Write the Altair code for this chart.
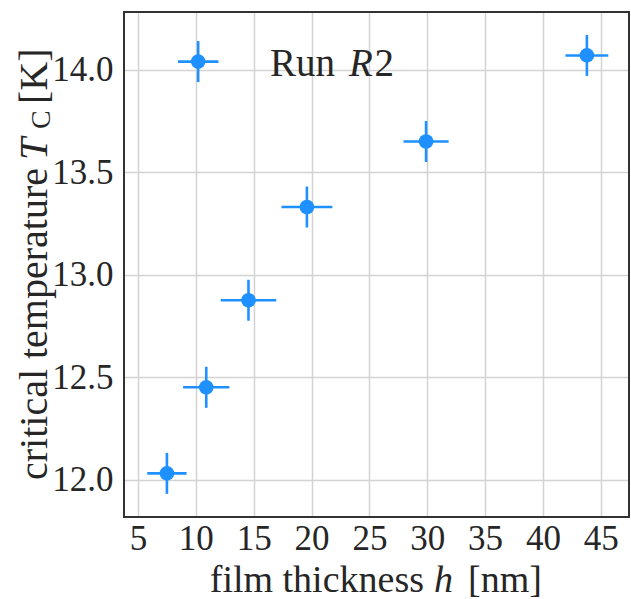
import altair as alt
import pandas as pd

# ---- data ----
thickness = [7.5, 10.9, 14.55, 19.6, 29.9, 43.8, 10.2]          # film thickness h [nm]
thickness_err = [1.7, 2.0, 2.4, 2.2, 1.95, 1.85, 1.75]
tc = [12.03, 12.45, 12.875, 13.33, 13.65, 14.07, 14.04]          # critical temperature [K]
tc_err = [0.10, 0.10, 0.10, 0.10, 0.10, 0.10, 0.10]

x_ticks = [5, 10, 15, 20, 25, 30, 35, 40, 45]
y_ticks = [12.0, 12.5, 13.0, 13.5, 14.0]
x_domain = [3.79, 47.44]
y_domain = [11.817, 14.282]

annotation = ["Run", "R", "2"]
x_title = ["film thickness", "h", "[nm]"]
y_title = ["critical temperature", "T", "C", "[K]"]

BLUE = "#1E90FF"
INK = "#262626"
FONT = "Liberation Serif"

df = pd.DataFrame({
    "h": thickness,
    "h_lo": [a - b for a, b in zip(thickness, thickness_err)],
    "h_hi": [a + b for a, b in zip(thickness, thickness_err)],
    "T": tc,
    "T_lo": [a - b for a, b in zip(tc, tc_err)],
    "T_hi": [a + b for a, b in zip(tc, tc_err)],
})

xs = alt.Scale(domain=x_domain, nice=False, zero=False)
ys = alt.Scale(domain=y_domain, nice=False, zero=False)

xaxis = alt.Axis(values=x_ticks, title=None, grid=True, ticks=False, domain=False,
                 labelFont=FONT, labelFontSize=35, labelColor=INK, labelPadding=4,
                 gridColor="#d3d3d3", gridWidth=1.5, labelFlush=False)
yaxis = alt.Axis(values=y_ticks, format=".1f", title=None, grid=True, ticks=False, domain=False,
                 labelFont=FONT, labelFontSize=35, labelColor=INK, labelPadding=11,
                 gridColor="#d3d3d3", gridWidth=1.5, labelFlush=False)

base = alt.Chart(df)

hbar = base.mark_rule(color=BLUE, strokeWidth=2.6).encode(
    x=alt.X("h_lo:Q", scale=xs, axis=xaxis), x2="h_hi:Q",
    y=alt.Y("T:Q", scale=ys, axis=yaxis))
vbar = base.mark_rule(color=BLUE, strokeWidth=2.6).encode(
    x=alt.X("h:Q", scale=xs), y=alt.Y("T_lo:Q", scale=ys), y2="T_hi:Q")
pts = base.mark_circle(color=BLUE, size=215, opacity=1).encode(
    x=alt.X("h:Q", scale=xs), y=alt.Y("T:Q", scale=ys))

one = pd.DataFrame({"a": [0]})

frame = alt.Chart(one).mark_rect(fill=None, stroke="#333333", strokeWidth=2).encode(
    x=alt.value(0), x2=alt.value(505), y=alt.value(0), y2=alt.value(505))


def label(txt, x, y, size=37, style="normal", align="left", angle=0):
    kw = dict(text=txt, font=FONT, fontSize=size, fontStyle=style, color=INK,
              align=align, baseline="alphabetic")
    if angle:
        kw["angle"] = angle
    return alt.Chart(one).mark_text(**kw).encode(x=alt.value(x), y=alt.value(y))


texts = [
    label(annotation[0], 146, 64, size=39),
    label(annotation[1], 225, 64, size=39, style="italic"),
    label(annotation[2], 270, 64, size=39, align="right"),
    label(x_title[0], 300, 580, size=38, align="right"),
    label(x_title[1], 310, 580, size=38, style="italic"),
    label(x_title[2], 344, 580, size=38),
    label(y_title[0], -77, 156, size=40, align="right", angle=270),
    label(y_title[1], -77, 148, size=40, style="italic", angle=270),
    label(y_title[2], -74, 117, size=28, angle=270),
    label(y_title[3], -77, 92, size=40, angle=270),
]

chart = alt.layer(hbar, vbar, pts, frame, *texts).properties(
    width=505, height=505,
    autosize=alt.AutoSizeParams(type="none"),
    padding={"left": 124, "top": 12, "right": 2, "bottom": 82},
).configure_view(stroke=None).configure(background="white")

chart.save("out.html", embed_options={"renderer": "svg", "actions": False})
